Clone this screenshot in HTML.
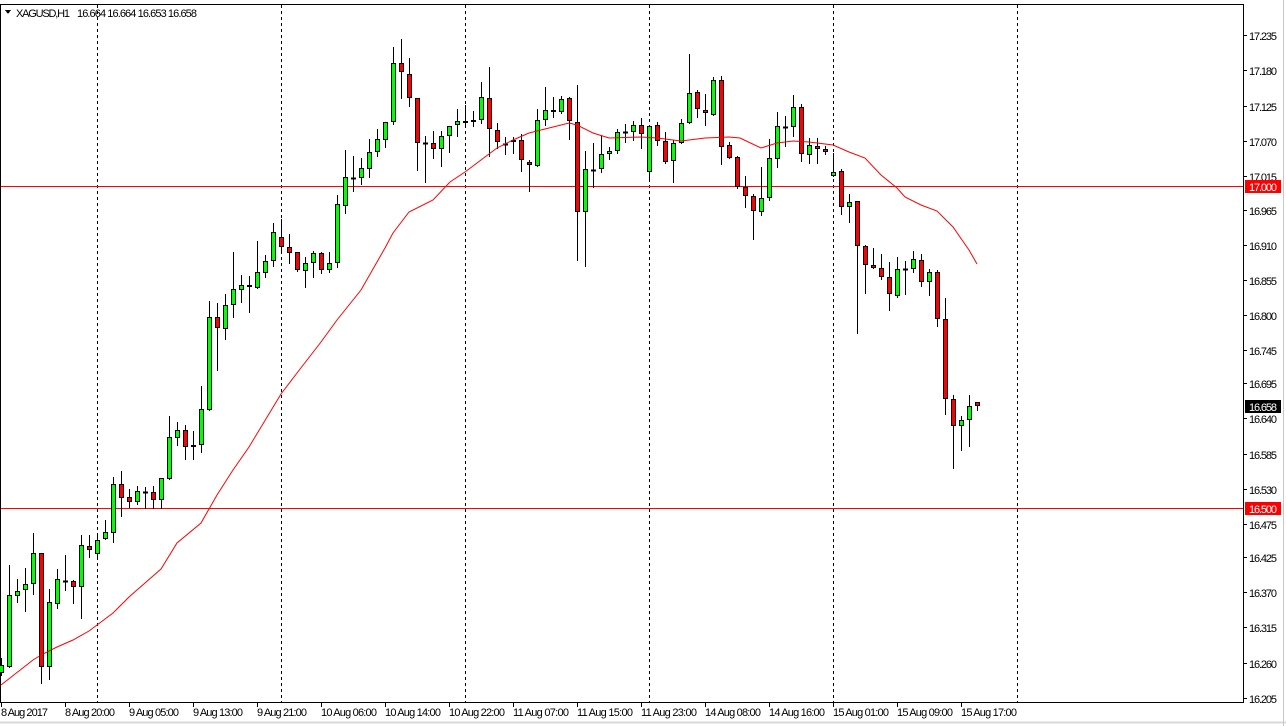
<!DOCTYPE html>
<html><head><meta charset="utf-8">
<style>
html,body{margin:0;padding:0;background:#fff;width:1286px;height:726px;overflow:hidden}
svg{display:block}
text{font-family:"Liberation Sans",sans-serif;font-size:11px;fill:#000}
.t{font-size:10.5px}
</style></head><body>
<svg id="s" width="1286" height="726" xmlns="http://www.w3.org/2000/svg" shape-rendering="crispEdges">
<rect x="0" y="0" width="1286" height="726" fill="#fff"/>
<line x1="0" y1="722.5" x2="1286" y2="722.5" stroke="#d8d8d8" stroke-width="2"/>
<line x1="1283.5" y1="0" x2="1283.5" y2="726" stroke="#c8c8c8"/>
<line x1="0.5" y1="4" x2="0.5" y2="703" stroke="#000"/>
<line x1="0" y1="4.5" x2="1244" y2="4.5" stroke="#000"/>
<line x1="1243.5" y1="4" x2="1243.5" y2="703" stroke="#000"/>
<line x1="0" y1="702.5" x2="1244" y2="702.5" stroke="#000"/>
<g id="grid" stroke="#000" stroke-dasharray="3,3">
<line x1="97.5" y1="5" x2="97.5" y2="702"/>
<line x1="281.5" y1="5" x2="281.5" y2="702"/>
<line x1="465.5" y1="5" x2="465.5" y2="702"/>
<line x1="649.5" y1="5" x2="649.5" y2="702"/>
<line x1="833.5" y1="5" x2="833.5" y2="702"/>
<line x1="1017.5" y1="5" x2="1017.5" y2="702"/>
</g>
<line x1="1" y1="186.5" x2="1243" y2="186.5" stroke="#f00"/>
<line x1="1" y1="508.5" x2="1243" y2="508.5" stroke="#f00"/>
<g id="c"></g>
<polyline id="ma" fill="none" stroke="#f00" stroke-width="1" shape-rendering="auto"/>
<g stroke="#000">
<line x1="1243" y1="35.5" x2="1247" y2="35.5"/><line x1="1243" y1="70.5" x2="1247" y2="70.5"/>
<line x1="1243" y1="106.5" x2="1247" y2="106.5"/><line x1="1243" y1="141.5" x2="1247" y2="141.5"/>
<line x1="1243" y1="176.5" x2="1247" y2="176.5"/><line x1="1243" y1="210.5" x2="1247" y2="210.5"/>
<line x1="1243" y1="245.5" x2="1247" y2="245.5"/><line x1="1243" y1="280.5" x2="1247" y2="280.5"/>
<line x1="1243" y1="315.5" x2="1247" y2="315.5"/><line x1="1243" y1="350.5" x2="1247" y2="350.5"/>
<line x1="1243" y1="383.5" x2="1247" y2="383.5"/><line x1="1243" y1="418.5" x2="1247" y2="418.5"/>
<line x1="1243" y1="454.5" x2="1247" y2="454.5"/><line x1="1243" y1="489.5" x2="1247" y2="489.5"/>
<line x1="1243" y1="524.5" x2="1247" y2="524.5"/><line x1="1243" y1="557.5" x2="1247" y2="557.5"/>
<line x1="1243" y1="592.5" x2="1247" y2="592.5"/><line x1="1243" y1="627.5" x2="1247" y2="627.5"/>
<line x1="1243" y1="663.5" x2="1247" y2="663.5"/><line x1="1243" y1="698.5" x2="1247" y2="698.5"/>
</g>
<g class="p">
<text x="1249" y="40" textLength="28">17.235</text><text x="1249" y="75" textLength="28">17.180</text>
<text x="1249" y="111" textLength="28">17.125</text><text x="1249" y="146" textLength="28">17.070</text>
<text x="1249" y="181" textLength="28">17.015</text><text x="1249" y="215" textLength="28">16.965</text>
<text x="1249" y="250" textLength="28">16.910</text><text x="1249" y="285" textLength="28">16.855</text>
<text x="1249" y="320" textLength="28">16.800</text><text x="1249" y="355" textLength="28">16.745</text>
<text x="1249" y="388" textLength="28">16.695</text><text x="1249" y="423" textLength="28">16.640</text>
<text x="1249" y="459" textLength="28">16.585</text><text x="1249" y="494" textLength="28">16.530</text>
<text x="1249" y="529" textLength="28">16.475</text><text x="1249" y="562" textLength="28">16.425</text>
<text x="1249" y="597" textLength="28">16.370</text><text x="1249" y="632" textLength="28">16.315</text>
<text x="1249" y="668" textLength="28">16.260</text><text x="1249" y="703" textLength="28">16.205</text>
</g>
<rect x="1245" y="180" width="36" height="13" fill="#f00"/>
<text x="1249" y="191" textLength="28" style="fill:#fff">17.000</text>
<rect x="1245" y="502" width="36" height="13" fill="#f00"/>
<text x="1249" y="513" textLength="28" style="fill:#fff">16.500</text>
<rect x="1245" y="400" width="36" height="13" fill="#000"/>
<text x="1249" y="411" textLength="28" style="fill:#fff">16.658</text>
<g stroke="#000">
<line x1="1.5" y1="702" x2="1.5" y2="707"/><line x1="65.5" y1="702" x2="65.5" y2="707"/>
<line x1="129.5" y1="702" x2="129.5" y2="707"/><line x1="193.5" y1="702" x2="193.5" y2="707"/>
<line x1="257.5" y1="702" x2="257.5" y2="707"/><line x1="321.5" y1="702" x2="321.5" y2="707"/>
<line x1="385.5" y1="702" x2="385.5" y2="707"/><line x1="449.5" y1="702" x2="449.5" y2="707"/>
<line x1="513.5" y1="702" x2="513.5" y2="707"/><line x1="577.5" y1="702" x2="577.5" y2="707"/>
<line x1="641.5" y1="702" x2="641.5" y2="707"/><line x1="705.5" y1="702" x2="705.5" y2="707"/>
<line x1="769.5" y1="702" x2="769.5" y2="707"/><line x1="833.5" y1="702" x2="833.5" y2="707"/>
<line x1="897.5" y1="702" x2="897.5" y2="707"/><line x1="961.5" y1="702" x2="961.5" y2="707"/>
</g>
<g class="t">
<text x="1" y="716" textLength="47">8 Aug 2017</text><text x="65" y="716" textLength="50">8 Aug 20:00</text>
<text x="129" y="716" textLength="50">9 Aug 05:00</text><text x="193" y="716" textLength="50">9 Aug 13:00</text>
<text x="257" y="716" textLength="50">9 Aug 21:00</text><text x="321" y="716" textLength="56">10 Aug 06:00</text>
<text x="385" y="716" textLength="56">10 Aug 14:00</text><text x="449" y="716" textLength="56">10 Aug 22:00</text>
<text x="513" y="716" textLength="56">11 Aug 07:00</text><text x="577" y="716" textLength="56">11 Aug 15:00</text>
<text x="641" y="716" textLength="56">11 Aug 23:00</text><text x="705" y="716" textLength="56">14 Aug 08:00</text>
<text x="769" y="716" textLength="56">14 Aug 16:00</text><text x="833" y="716" textLength="56">15 Aug 01:00</text>
<text x="897" y="716" textLength="56">15 Aug 09:00</text><text x="961" y="716" textLength="56">15 Aug 17:00</text>
</g>
<polygon points="5,10 11,10 8,14" fill="#000"/>
<text x="16" y="17" textLength="54">XAGUSD,H1</text>
<text x="77" y="17" textLength="120">16.664 16.664 16.653 16.658</text>
</svg>
<script>
var d=[
[1,658,665,673,675],[1,565,595,667,667],[1,579,591,596,602],[1,568,584,590,611],[1,533,553,584,594],
[0,553,553,667,683],[1,589,602,667,679],[1,569,579,604,608],[2,555,581,581,590],[0,580,581,587,603],
[1,535,545,587,618],[0,535,546,550,557],[1,533,540,554,558],[1,520,532,539,539],[1,477,484,533,542],
[0,471,484,498,516],[0,489,497,502,507],[1,486,491,502,504],[2,487,492,492,508],[0,486,492,500,508],
[1,478,478,500,508],[1,416,437,479,479],[1,422,430,438,445],[0,425,430,447,459],[1,431,445,447,459],
[1,386,409,445,452],[1,301,317,410,410],[0,303,317,328,370],[1,294,305,329,339],[1,252,289,305,317],
[1,275,285,290,302],[0,276,285,287,312],[1,241,272,288,288],[1,255,261,273,277],[1,223,232,261,266],
[0,219,237,247,252],[0,234,247,253,263],[0,252,252,270,271],[1,257,263,271,287],[1,251,253,263,277],
[0,252,253,270,273],[1,252,263,270,272],[1,195,204,263,267],[1,150,177,206,213],[2,156,178,178,191],
[1,158,168,178,184],[1,139,152,169,177],[1,129,139,152,156],[1,122,122,140,147],[1,47,63,122,124],
[0,39,63,72,98],[0,58,74,98,106],[0,98,98,143,170],[2,136,143,143,182],[0,131,143,149,158],
[1,131,136,149,166],[1,126,126,136,152],[1,109,121,125,136],[1,105,121,123,126],[1,111,120,122,126],
[1,82,97,120,123],[0,67,98,129,156],[0,123,130,142,148],[2,137,144,144,154],[1,137,140,142,153],
[0,134,140,160,171],[0,160,162,165,191],[1,109,120,166,166],[1,87,110,120,125],[1,97,110,112,117],
[1,96,99,112,113],[0,97,98,121,139],[0,85,122,212,260],[1,151,169,212,266],[2,143,170,170,187],
[1,135,154,169,172],[1,147,151,154,159],[1,129,132,151,153],[2,124,132,132,142],[1,121,125,132,140],
[0,118,125,134,148],[1,126,126,172,180],[0,122,125,141,145],[0,132,141,162,163],[1,140,143,161,182],
[1,119,123,143,143],[1,54,93,123,123],[0,90,92,109,117],[0,94,110,113,125],[1,77,80,115,115],
[0,76,80,147,164],[0,142,145,158,158],[0,156,157,187,188],[0,176,187,196,207],[0,194,196,211,239],
[1,167,198,212,215],[1,139,158,198,200],[1,112,126,159,167],[2,116,127,127,146],[1,95,107,127,136],
[0,104,107,154,161],[1,138,145,155,163],[0,138,146,149,163],[0,146,149,152,154],[1,153,172,176,176],
[0,169,171,207,214],[1,194,202,207,222],[0,201,201,246,333],[0,245,246,265,293],[0,248,265,268,268],
[0,254,268,277,279],[0,262,277,294,310],[1,257,269,296,297],[2,261,269,269,294],[1,251,259,269,272],
[0,254,260,282,286],[1,269,272,282,295],[0,270,272,319,326],[0,298,319,399,414],[0,395,399,426,468],
[1,416,420,426,450],[1,395,406,420,446],[0,402,402,406,410]];
var g=document.getElementById('c'),h='';
for(var i=0;i<d.length;i++){var c=d[i],x=1+8*i;
h+='<line x1="'+(x+0.5)+'" y1="'+c[1]+'" x2="'+(x+0.5)+'" y2="'+(c[4]+1)+'" stroke="#000"/>';
if(c[0]==2){h+='<line x1="'+(x-2)+'" y1="'+(c[2]+0.5)+'" x2="'+(x+3)+'" y2="'+(c[2]+0.5)+'" stroke="#000" stroke-width="2"/>';}
else{var hh=Math.max(c[3]-c[2],2);h+='<rect x="'+(x-1.5)+'" y="'+(c[2]+0.5)+'" width="4" height="'+(hh-1)+'" fill="'+(c[0]?'#00ff00':'#ff0000')+'" stroke="#000"/>';}}
g.innerHTML=h;
var ma=[[1,685],[33,660],[41,655],[57,647],[73,640],[89,631],[97,625],[113,613],[129,597],[145,583],[161,569],[177,543],[201,523],[217,495],[233,470],[249,447],[281,394],[297,373],[321,342],[337,320],[361,290],[385,248],[393,233],[409,212],[433,200],[450,182],[465,172],[481,160],[497,148],[513,140],[529,133],[553,127],[569,123],[577,125],[593,133],[609,138],[641,137],[657,138],[681,141],[705,138],[729,137],[740,138],[761,148],[777,143],[793,141],[809,142],[833,145],[849,152],[865,158],[881,175],[897,188],[905,197],[921,205],[937,211],[953,227],[969,250],[977,264]];
document.getElementById('ma').setAttribute('points',ma.map(function(p){return p.join(',')}).join(' '));
</script>
</body></html>
